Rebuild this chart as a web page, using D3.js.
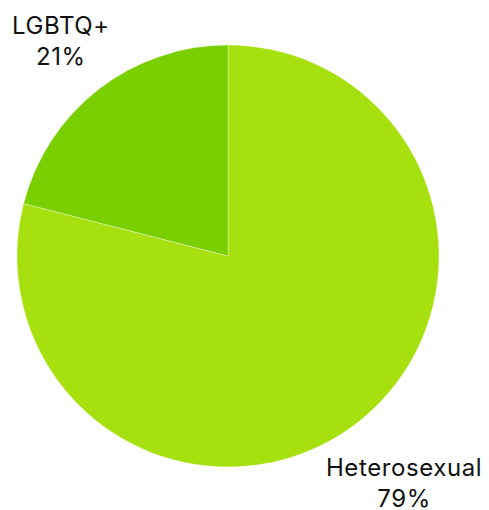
<!DOCTYPE html>
<html>
<head>
<meta charset="utf-8">
<script src="https://cdn.jsdelivr.net/npm/d3@7"></script>
<style>
  html, body { margin: 0; padding: 0; background: #fff; }
  svg { display: block; }
  text { font-family: Inter, "Noto Sans", sans-serif; }
</style>
</head>
<body>
<svg id="chart" width="489" height="510"></svg>
<script>
// Share of respondents by orientation
const categories = ["Heterosexual", "LGBTQ+"];
const values = [79, 21];
const colors = ["#a6e00e", "#7acf00"];

const width = 489, height = 510;
const cx = 228, cy = 256, radius = 211;
const labelGap = 9;
const fontSize = 24, lineHeight = 31;

const svg = d3.select("#chart");
const g = svg.append("g").attr("transform", `translate(${cx},${cy})`);

const data = categories.map((c, i) => ({ name: c, value: values[i], color: colors[i] }));

const pie = d3.pie().sort(null).value(d => d.value);
const arc = d3.arc().innerRadius(0).outerRadius(radius);
const arcs = pie(data);

g.selectAll("path.slice")
  .data(arcs)
  .join("path")
  .attr("class", "slice")
  .attr("d", arc)
  .attr("fill", d => d.data.color)
  .attr("stroke", "rgba(255,255,255,0.35)")
  .attr("stroke-width", 1);

// Two-line labels pushed outward along each slice's mid-angle until the
// nearest corner of the label box clears the rim by labelGap.
const fmt = d3.format(".0%");
const labels = g.selectAll("g.label")
  .data(arcs)
  .join("g")
  .attr("class", "label");

labels.each(function(d) {
  const sel = d3.select(this);
  const t = sel.append("text")
    .attr("text-anchor", "middle")
    .attr("font-size", fontSize)
    .attr("letter-spacing", 0.6)
    .attr("fill", "#111");
  t.append("tspan").attr("x", 0).attr("y", 0).text(d.data.name);
  t.append("tspan").attr("x", 0).attr("y", lineHeight).text(fmt(d.data.value / 100));

  const bb = t.node().getBBox();
  const bcx = bb.x + bb.width / 2, bcy = bb.y + bb.height / 2;
  const mid = (d.startAngle + d.endAngle) / 2;
  const ux = Math.sin(mid), uy = -Math.cos(mid);
  const nearest = (dist) => {
    const px = ux * dist, py = uy * dist;
    let m = Infinity;
    for (const sx of [-1, 1]) for (const sy of [-1, 1]) {
      const x = px + sx * bb.width / 2, y = py + sy * bb.height / 2;
      m = Math.min(m, Math.hypot(x, y));
    }
    return m;
  };
  let lo = radius, hi = radius * 3;
  for (let k = 0; k < 50; k++) {
    const md = (lo + hi) / 2;
    if (nearest(md) < radius + labelGap) lo = md; else hi = md;
  }
  const dist = (lo + hi) / 2;
  sel.attr("transform", `translate(${ux * dist - bcx},${uy * dist - bcy})`);
});
</script>
</body>
</html>
